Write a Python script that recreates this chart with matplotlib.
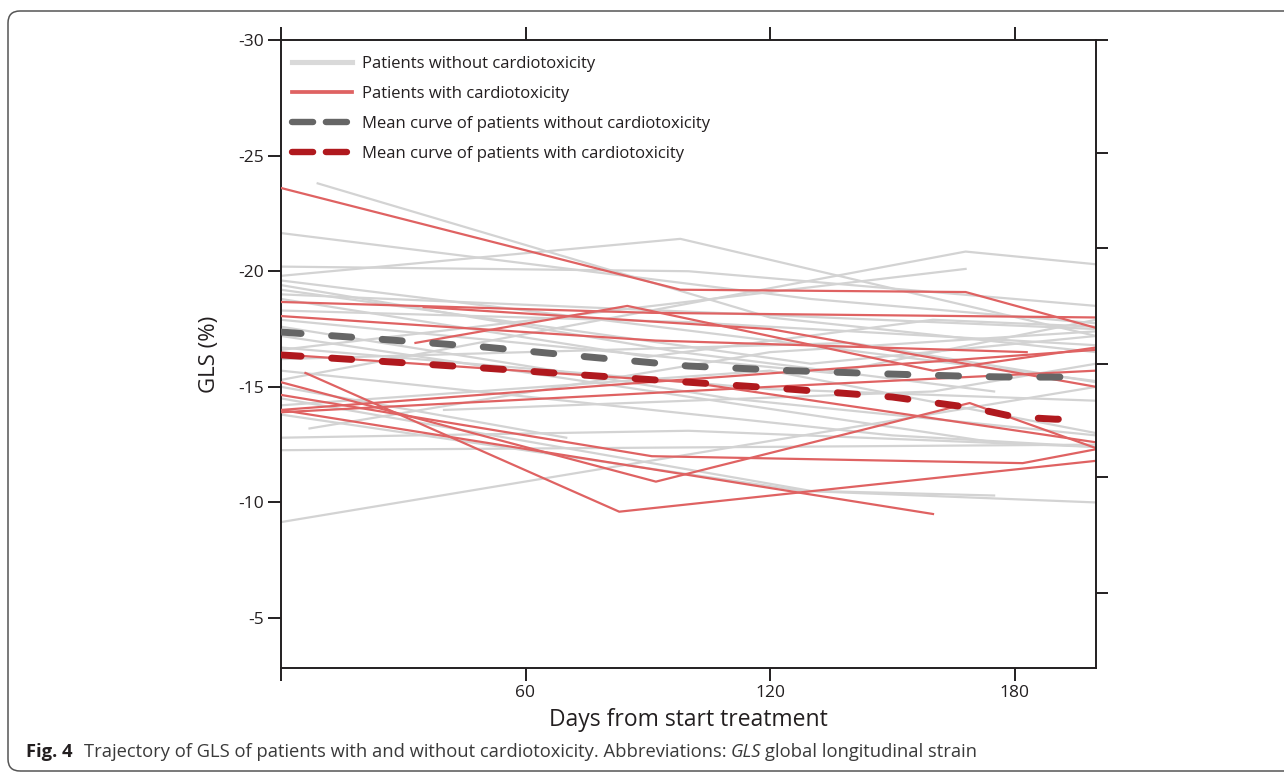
import matplotlib
matplotlib.use("Agg")
import matplotlib.pyplot as plt
from matplotlib.lines import Line2D
from matplotlib.patches import FancyBboxPatch
from matplotlib.transforms import IdentityTransform

plt.rcParams['font.family'] = ['Open Sans', 'DejaVu Sans']

# ---------------- data ----------------
# patients without cardiotoxicity: (days, GLS)
no_cardio = [
    ([0, 200], [-9.15, -15.0]),
    ([9, 120, 200], [-23.8, -18.0, -16.5]),
    ([0, 130, 200], [-21.65, -18.8, -17.75]),
    ([0, 98, 200], [-19.8, -21.4, -17.2]),
    ([0, 168, 200], [-15.3, -20.85, -20.3]),
    ([0, 168], [-16.6, -20.1]),
    ([0, 100, 200], [-20.2, -20.0, -18.5]),
    ([0, 120, 200], [-19.6, -17.0, -15.25]),
    ([0, 98, 175], [-19.4, -16.5, -14.8]),
    ([0, 130, 200], [-19.2, -16.0, -17.2]),
    ([0, 100, 200], [-18.3, -17.8, -16.8]),
    ([0, 110, 200], [-17.6, -14.5, -12.9]),
    ([0, 120, 200], [-16.7, -14.9, -14.4]),
    ([0, 150, 200], [-15.7, -12.9, -12.4]),
    ([0, 100, 200], [-12.8, -13.1, -12.4]),
    ([0, 200], [-12.26, -12.5]),
    ([7, 120, 200], [-13.2, -16.5, -17.4]),
    ([0, 70], [-15.0, -12.8]),
    ([0, 130, 175], [-14.5, -10.5, -10.3]),
    ([0, 128, 200], [-13.8, -10.5, -10.0]),
    ([0, 135, 200], [-17.9, -15.6, -17.9]),
    ([0, 90, 160, 200], [-18.8, -16.3, -17.9, -17.6]),
    ([0, 140, 200], [-16.2, -16.9, -15.2]),
    ([0, 120, 200], [-14.2, -15.7, -13.0]),
    ([0, 175], [-17.2, -12.6]),
    ([0, 200], [-19.0, -17.5]),
    ([40, 160, 200], [-14.0, -14.8, -16.0]),
]

# patients with cardiotoxicity
with_cardio = [
    ([0, 98, 168, 200], [-23.6, -19.2, -19.1, -17.55]),
    ([0, 91, 200], [-18.67, -18.2, -18.0]),
    ([0, 92, 183], [-18.06, -17.0, -16.5]),
    ([33, 85, 160, 200], [-16.9, -18.5, -15.7, -16.7]),
    ([35, 120, 200], [-18.45, -17.5, -15.0]),
    ([0, 100, 200], [-16.4, -15.2, -12.6]),
    ([0, 90, 200], [-14.0, -15.2, -16.6]),
    ([0, 120, 200], [-13.9, -15.0, -15.7]),
    ([0, 92, 169, 200], [-15.2, -10.9, -14.3, -12.35]),
    ([6, 83, 200], [-15.6, -9.6, -11.8]),
    ([0, 91, 182, 200], [-14.65, -12.0, -11.7, -12.3]),
    ([0, 160], [-14.0, -9.5]),
]

# mean curves
mean_days = [0, 25, 50, 75, 100, 125, 150, 170, 180, 190, 197]
mean_no_cardio = [-17.37, -17.05, -16.72, -16.3, -15.9, -15.7, -15.55, -15.45, -15.42, -15.42, -15.46]
mean_with_cardio = [-16.38, -16.1, -15.81, -15.5, -15.2, -14.9, -14.56, -14.08, -13.7, -13.6, -13.6]

x_ticks = [0, 60, 120, 180]
x_labels = ['', '60', '120', '180']
y_ticks = [-30, -25, -20, -15, -10, -5]
y_labels = ['-30', '-25', '-20', '-15', '-10', '-5']
right_ticks = [-30, -25.1, -21.0, -16.0, -11.1, -6.1]

legend_labels = ['Patients without cardiotoxicity',
                 'Patients with cardiotoxicity',
                 'Mean curve of patients without cardiotoxicity',
                 'Mean curve of patients with cardiotoxicity']

GREY = '#d3d3d3'
RED = '#df6262'
MEAN_GREY = '#666666'
MEAN_RED = '#b0191e'
INK = '#231f20'

fig = plt.figure(figsize=(12.84, 7.72), dpi=100)
ax = fig.add_axes([281 / 1284, 104 / 772, 815 / 1284, 628 / 772])

for days, gls in no_cardio:
    ax.plot(days, gls, color=GREY, lw=1.6, zorder=2)
for days, gls in with_cardio:
    ax.plot(days, gls, color=RED, lw=1.6, zorder=3)

ax.plot(mean_days, mean_no_cardio, color=MEAN_GREY, lw=5, dashes=(2.9, 4.4),
        dash_capstyle='round', zorder=4)
ax.plot(mean_days, mean_with_cardio, color=MEAN_RED, lw=5, dashes=(2.9, 4.4),
        dash_capstyle='round', zorder=4)

ax.set_xlim(0, 200)
ax.set_ylim(-2.84, -30)
ax.set_xticks(x_ticks)
ax.set_xticklabels(x_labels)
ax.set_yticks(y_ticks)
ax.set_yticklabels(y_labels)
ax.tick_params(axis='both', direction='out', length=9.5, width=1.4, color=INK,
               labelsize=12.5, labelcolor=INK, pad=3)
ax.tick_params(axis='x', top=True, labeltop=False)
for s in ax.spines.values():
    s.set_linewidth(1.4)
    s.set_color(INK)
ax.spines['right'].set_visible(False)

ax2 = ax.twinx()
ax2.set_ylim(ax.get_ylim())
ax2.set_yticks(right_ticks)
ax2.set_yticklabels([''] * len(right_ticks))
ax2.tick_params(axis='y', direction='out', length=8.5, width=1.4, color=INK)
for k in ['left', 'top', 'bottom']:
    ax2.spines[k].set_visible(False)
ax2.spines['right'].set_linewidth(1.4)
ax2.spines['right'].set_color(INK)

handles = [
    Line2D([], [], color='#d9d9d9', lw=3.7),
    Line2D([], [], color=RED, lw=2.7),
    Line2D([], [], color=MEAN_GREY, lw=4.6, dashes=(3.3, 2.0), dash_capstyle='round'),
    Line2D([], [], color=MEAN_RED, lw=4.6, dashes=(3.3, 2.0), dash_capstyle='round'),
]
ax.legend(handles, legend_labels, loc='upper left', bbox_to_anchor=(-0.004, 0.997),
          frameon=False, fontsize=12.0, handlelength=3.6, handletextpad=0.62,
          labelspacing=0.84, borderaxespad=0.45, labelcolor=INK)

fig.text(210 / 1284, 1 - 354 / 772, 'GLS (%)', rotation=90, ha='center', va='center',
         fontsize=16, color=INK)
fig.text(688 / 1284, 1 - 720 / 772, 'Days from start treatment', ha='center', va='center',
         fontsize=16.5, color=INK)

# caption built piece by piece
renderer = fig.canvas.get_renderer()
cx = 26
cy = 772 - 752
pieces = [('Fig. 4', 'bold', 'normal', '#231f20', 11),
          ('Trajectory of GLS of patients with and without cardiotoxicity. Abbreviations: ',
           'normal', 'normal', '#3a3a3a', 0),
          ('GLS', 'normal', 'italic', '#3a3a3a', 4),
          ('global longitudinal strain', 'normal', 'normal', '#3a3a3a', 0)]
for txt, weight, style, col, gap in pieces:
    t = fig.text(cx, cy, txt, transform=IdentityTransform(), ha='left', va='center',
                 fontsize=13.2, fontweight=weight, fontstyle=style, color=col)
    bb = t.get_window_extent(renderer)
    cx = bb.x1 + gap

frame = FancyBboxPatch((8, 1), 1330, 760, boxstyle='round,pad=0,rounding_size=12',
                       transform=IdentityTransform(), fill=False, lw=1.1,
                       edgecolor='#555555')
fig.patches.append(frame)

fig.savefig('out.png', dpi=100)
